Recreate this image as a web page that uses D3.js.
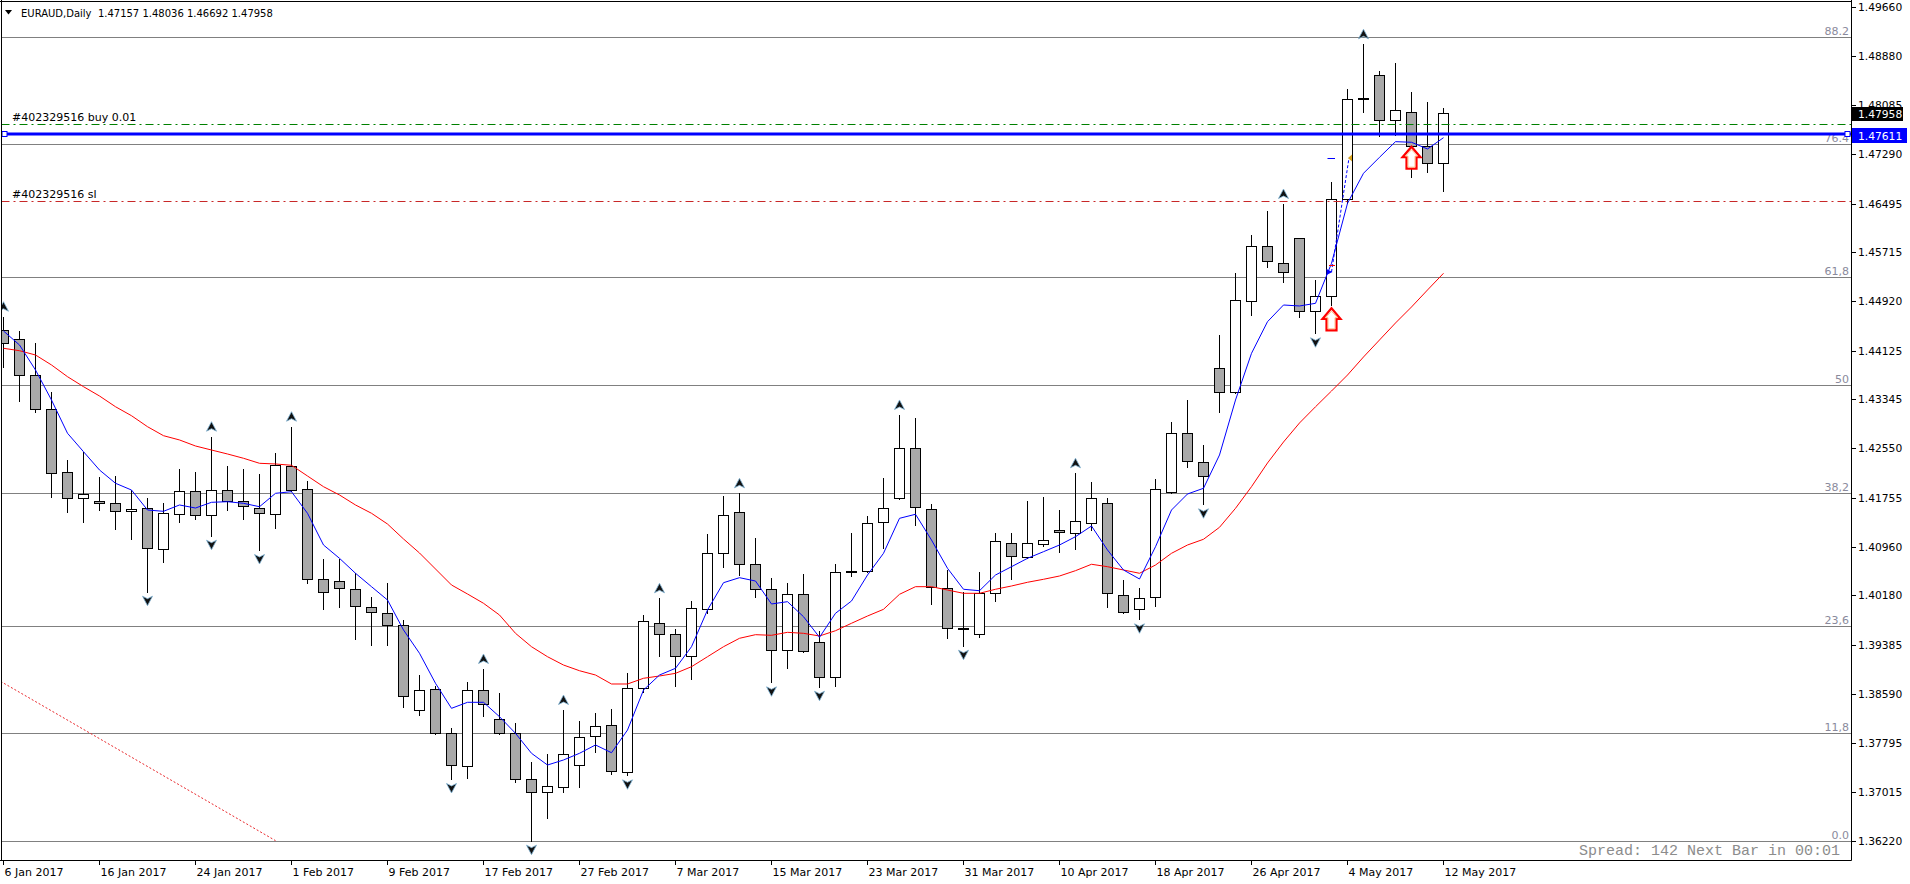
<!DOCTYPE html>
<html><head><meta charset="utf-8">
<script src="https://cdn.jsdelivr.net/npm/d3@7"></script>
<style>
html,body{margin:0;padding:0;background:#fff;overflow:hidden}
svg{display:block}
</style></head><body>
<svg id="chart" width="1910" height="884"></svg>
<script>
// ---------------- DATA ----------------
const symbolTitle = "EURAUD,Daily";
const lastQuote = ["1.47157", "1.48036", "1.46692", "1.47958"];

const dates = [
"2017-01-06","2017-01-09","2017-01-10","2017-01-11","2017-01-12","2017-01-13",
"2017-01-16","2017-01-17","2017-01-18","2017-01-19","2017-01-20",
"2017-01-23","2017-01-24","2017-01-25","2017-01-26","2017-01-27",
"2017-01-30","2017-01-31","2017-02-01","2017-02-02","2017-02-03",
"2017-02-06","2017-02-07","2017-02-08","2017-02-09","2017-02-10",
"2017-02-13","2017-02-14","2017-02-15","2017-02-16","2017-02-17",
"2017-02-20","2017-02-21","2017-02-22","2017-02-23","2017-02-24",
"2017-02-27","2017-02-28","2017-03-01","2017-03-02","2017-03-03",
"2017-03-06","2017-03-07","2017-03-08","2017-03-09","2017-03-10",
"2017-03-13","2017-03-14","2017-03-15","2017-03-16","2017-03-17",
"2017-03-20","2017-03-21","2017-03-22","2017-03-23","2017-03-24",
"2017-03-27","2017-03-28","2017-03-29","2017-03-30","2017-03-31",
"2017-04-03","2017-04-04","2017-04-05","2017-04-06","2017-04-07",
"2017-04-10","2017-04-11","2017-04-12","2017-04-13","2017-04-14",
"2017-04-17","2017-04-18","2017-04-19","2017-04-20","2017-04-21",
"2017-04-24","2017-04-25","2017-04-26","2017-04-27","2017-04-28",
"2017-05-01","2017-05-02","2017-05-03","2017-05-04","2017-05-05",
"2017-05-08","2017-05-09","2017-05-10","2017-05-11","2017-05-12"];

const opens = [
1.44453,1.44308,1.43728,1.43179,1.42164,1.41754,1.41701,1.41664,1.41535,1.41583,
1.40922,1.41487,1.41862,1.41471,1.41878,1.41701,1.41583,1.41487,1.42265,1.41890,
1.40439,1.40407,1.40278,1.39987,1.39891,1.39697,1.38327,1.38666,1.37956,1.37424,
1.38649,1.38182,1.37956,1.37215,1.37005,1.37095,1.37440,1.37908,1.38085,1.37328,
1.38682,1.39730,1.39552,1.39198,1.39955,1.40858,1.41519,1.40681,1.40278,1.39294,
1.40197,1.39423,1.38859,1.40557,1.40568,1.41358,1.41745,1.42551,1.41567,1.40294,
1.39626,1.39552,1.40213,1.41019,1.40794,1.41003,1.41229,1.41180,1.41342,1.41664,
1.40181,1.39955,1.40149,1.41841,1.42793,1.42325,1.43841,1.43453,1.44921,1.45807,
1.45533,1.45936,1.44759,1.45001,1.46565,1.48182,1.48564,1.47838,1.47968,1.47429,
1.47157];
const highs = [
1.44672,1.44442,1.44248,1.43458,1.42362,1.42496,1.42083,1.42104,1.41878,1.41745,
1.41664,1.42217,1.42169,1.42738,1.42265,1.42217,1.42136,1.42480,1.42899,1.42024,
1.40766,1.40766,1.40536,1.40149,1.40379,1.39783,1.38896,1.38719,1.38037,1.38778,
1.38993,1.38606,1.38122,1.37489,1.37623,1.38332,1.38155,1.38283,1.38348,1.38924,
1.39863,1.40133,1.39633,1.40089,1.41164,1.41777,1.41825,1.41100,1.40455,1.40379,
1.40524,1.39601,1.40686,1.41180,1.41454,1.42067,1.43088,1.43034,1.41648,1.40589,
1.40229,1.40552,1.41180,1.41180,1.41701,1.41766,1.41551,1.42148,1.42003,1.41745,
1.40428,1.40294,1.42051,1.42970,1.43325,1.42599,1.44372,1.45372,1.45985,1.46376,
1.46489,1.45940,1.45264,1.46844,1.48338,1.49064,1.48633,1.48762,1.48290,1.48129,
1.48036];
const lows = [
1.43866,1.43318,1.43141,1.41771,1.41529,1.41367,1.41556,1.41255,1.41093,1.40239,
1.40723,1.41367,1.41406,1.41142,1.41556,1.41416,1.40911,1.41271,1.41860,1.40374,
1.39965,1.39997,1.39476,1.39380,1.39380,1.38375,1.38256,1.37950,1.37220,1.37240,
1.38240,1.37940,1.37166,1.36226,1.36596,1.37015,1.37095,1.37650,1.37295,1.37279,
1.38627,1.39207,1.38724,1.38827,1.39891,1.40632,1.40508,1.40149,1.38778,1.39004,
1.39262,1.38707,1.38724,1.40487,1.40560,1.40948,1.41740,1.41319,1.40046,1.39488,
1.39368,1.39514,1.40094,1.40439,1.40777,1.40981,1.40874,1.40922,1.41229,1.39987,
1.39891,1.39794,1.40013,1.41825,1.42254,1.41648,1.43131,1.43440,1.44695,1.45469,
1.45236,1.44663,1.44405,1.44856,1.46510,1.47977,1.47581,1.47601,1.46919,1.47010,
1.46692];
const closes = [
1.44243,1.43728,1.43179,1.42148,1.41754,1.41809,1.41664,1.41535,1.41572,1.40939,
1.41503,1.41862,1.41471,1.41878,1.41701,1.41616,1.41503,1.42281,1.41874,1.40439,
1.40229,1.40294,1.40004,1.39907,1.39697,1.38558,1.38649,1.37956,1.37440,1.38649,
1.38424,1.37956,1.37220,1.37005,1.37102,1.37618,1.37892,1.38069,1.37344,1.38682,
1.39762,1.39552,1.39198,1.39971,1.40858,1.41471,1.40681,1.40278,1.39294,1.40197,
1.39278,1.38859,1.40552,1.40550,1.41342,1.41583,1.42551,1.41600,1.40310,1.39649,
1.39630,1.40213,1.41051,1.40810,1.41019,1.41068,1.41197,1.41374,1.41745,1.40213,
1.39907,1.40133,1.41890,1.42793,1.42341,1.42099,1.43453,1.44937,1.45807,1.45565,
1.45388,1.44759,1.45006,1.46565,1.48177,1.48175,1.47838,1.48000,1.47429,1.47145,
1.47958];

// fast (blue) and slow (red) moving averages
const fastMA = [
1.44442,1.44216,1.43813,1.43329,1.42793,1.42496,1.42201,1.41987,1.41878,1.41556,
1.41535,1.41637,1.41588,1.41680,1.41690,1.41664,1.41609,1.41825,1.41851,1.41503,
1.40992,1.40777,1.40536,1.40320,1.40105,1.39622,1.39246,1.38762,1.38359,1.38456,
1.38456,1.38224,1.37956,1.37634,1.37445,1.37526,1.37634,1.37768,1.37643,1.38009,
1.38654,1.38896,1.39004,1.39352,1.39944,1.40384,1.40465,1.40411,1.40041,1.40078,
1.39836,1.39504,1.39891,1.40089,1.40508,1.40858,1.41422,1.41487,1.41072,1.40616,
1.40278,1.40255,1.40508,1.40642,1.40777,1.40884,1.40992,1.41126,1.41298,1.40911,
1.40589,1.40444,1.40964,1.41556,1.41814,1.41906,1.42443,1.43329,1.44082,1.44592,
1.44861,1.44845,1.44888,1.45533,1.46500,1.46984,1.47242,1.47494,1.47484,1.47376,
1.47558];
const slowMA = [
1.44163,1.44124,1.44055,1.43894,1.43705,1.43544,1.43394,1.43221,1.43076,1.42899,
1.42754,1.42685,1.42588,1.42523,1.42459,1.42390,1.42309,1.42298,1.42277,1.42104,
1.41932,1.41798,1.41637,1.41503,1.41330,1.41089,1.40863,1.40605,1.40347,1.40202,
1.40052,1.39863,1.39568,1.39352,1.39191,1.39057,1.38965,1.38896,1.38751,1.38751,
1.38843,1.38880,1.38923,1.39030,1.39191,1.39352,1.39488,1.39546,1.39536,1.39584,
1.39568,1.39525,1.39610,1.39730,1.39847,1.39955,1.40197,1.40320,1.40320,1.40266,
1.40213,1.40213,1.40278,1.40331,1.40391,1.40439,1.40492,1.40578,1.40681,1.40642,
1.40589,1.40536,1.40669,1.40858,1.40992,1.41084,1.41277,1.41583,1.41932,1.42314,
1.42652,1.42959,1.43220,1.43474,1.43732,1.44023,1.44297,1.44571,1.44829,1.45103,
1.45372];

const priceTicks = ["1.49660","1.48880","1.48085","1.47290","1.46495","1.45715","1.44920","1.44125",
"1.43345","1.42550","1.41755","1.40960","1.40180","1.39385","1.38590","1.37795","1.37015","1.36220"];
const dateTickDates = ["2017-01-06","2017-01-16","2017-01-24","2017-02-01","2017-02-09","2017-02-17",
"2017-02-27","2017-03-07","2017-03-15","2017-03-23","2017-03-31","2017-04-10","2017-04-18",
"2017-04-26","2017-05-04","2017-05-12"];
const dateTickLabels = ["6 Jan 2017","16 Jan 2017","24 Jan 2017","1 Feb 2017","9 Feb 2017","17 Feb 2017",
"27 Feb 2017","7 Mar 2017","15 Mar 2017","23 Mar 2017","31 Mar 2017","10 Apr 2017","18 Apr 2017",
"26 Apr 2017","4 May 2017","12 May 2017"];

const upFractals = ["2017-01-06","2017-01-25","2017-02-01","2017-02-17","2017-02-24","2017-03-06",
"2017-03-13","2017-03-27","2017-04-11","2017-04-28","2017-05-05"];
const downFractals = ["2017-01-19","2017-01-25","2017-01-30","2017-02-15","2017-02-22","2017-03-02",
"2017-03-15","2017-03-20","2017-03-31","2017-04-17","2017-04-21","2017-05-02"];

const fibLow = 1.36226, fibHigh = 1.50916;
const fibLevels = [0, 11.8, 23.6, 38.2, 50, 61.8, 76.4, 88.2];
const fibLabels = ["0.0", "11,8", "23,6", "38,2", "50", "61,8", "76.4", "88.2"];
const fibTrendBars = [-81.3, 17];
const fibTrendPrices = [fibHigh, fibLow];

const orderLabel = "#402329516 buy 0.01", orderPrice = 1.47779;
const slLabel = "#402329516 sl", slPrice = 1.46542;
const hLinePrice = 1.47611, hLineLabel = "1.47611";
const bidPrice = 1.47958, bidLabel = "1.47958";

const signalDates = ["2017-05-03", "2017-05-10"];
const signalPrices = [1.44808, 1.47413];

const tradeOpenDate = "2017-05-03", tradeOpenPrice = 1.45393;
const tradeCloseDate = "2017-05-04", tradeClosePrice = 1.47231;
const tradeSlMark = 1.45506, tradeTpMark = 1.47231;

const spreadText = "Spread: 142 Next Bar in 00:01";

// ---------------- DRAW ----------------
const W = 1910, H = 884;
const L = 1.5, R = 1851.5, T = 1.5, B = 860.5;
const svg = d3.select("#chart");
const FONT = "DejaVu Sans, Verdana, sans-serif";

const x = d3.scaleLinear().domain([0, dates.length - 1]).range([3.5, 1443.5]);
const y = d3.scaleLinear().domain([1.3622, 1.4966]).range([841, 7.3]);
const idx = new Map(dates.map((d, i) => [d, i]));
const cr = v => Math.round(v) + 0.5;

svg.append("rect").attr("width", W).attr("height", H).attr("fill", "#fff");
svg.append("defs").append("clipPath").attr("id", "plot")
  .append("rect").attr("x", L).attr("y", T).attr("width", R - L).attr("height", B - T);
const g = svg.append("g").attr("clip-path", "url(#plot)");

// Fibonacci levels
const fibPrice = lv => fibLow + (fibHigh - fibLow) * lv / 100;
g.selectAll("line.fib").data(fibLevels).join("line").attr("class", "fib")
  .attr("x1", L).attr("x2", R)
  .attr("y1", d => cr(y(fibPrice(d)))).attr("y2", d => cr(y(fibPrice(d))))
  .attr("stroke", "#808080").attr("stroke-width", 1);
g.selectAll("text.fibl").data(fibLevels).join("text").attr("class", "fibl")
  .attr("x", 1849).attr("y", d => cr(y(fibPrice(d))) - 2.5)
  .attr("text-anchor", "end").attr("font-family", FONT).attr("font-size", 11)
  .attr("fill", "#8a8a9c").text((d, i) => fibLabels[i]);
// Fibonacci trend line (red dotted)
g.append("line")
  .attr("x1", x(fibTrendBars[0])).attr("y1", y(fibTrendPrices[0]))
  .attr("x2", x(fibTrendBars[1])).attr("y2", y(fibTrendPrices[1]))
  .attr("stroke", "#e8262a").attr("stroke-width", 1).attr("stroke-dasharray", "2,2");

// Candles
const bars = dates.map((d, i) => ({ i, o: opens[i], h: highs[i], l: lows[i], c: closes[i] }));
const cg = g.append("g").attr("shape-rendering", "crispEdges");
cg.selectAll("line.wick").data(bars).join("line").attr("class", "wick")
  .attr("x1", d => x(d.i)).attr("x2", d => x(d.i))
  .attr("y1", d => Math.round(y(d.h))).attr("y2", d => Math.round(y(d.l)) + 1)
  .attr("stroke", "#000").attr("stroke-width", 1);
bars.forEach(d => {
  const top = Math.round(y(Math.max(d.o, d.c))), bot = Math.round(y(Math.min(d.o, d.c)));
  if (bot - top < 1.5) {
    cg.append("rect").attr("x", x(d.i) - 5.5).attr("y", Math.round(y(d.c)) - 1)
      .attr("width", 11).attr("height", 2).attr("fill", "#000");
  } else {
    cg.append("rect").attr("x", x(d.i) - 5).attr("y", top + 0.5)
      .attr("width", 10).attr("height", bot - top)
      .attr("fill", d.c >= d.o ? "#ffffff" : "#a9a9a9")
      .attr("stroke", "#000").attr("stroke-width", 1);
  }
});

// Order / SL lines
g.append("line").attr("x1", L).attr("x2", R)
  .attr("y1", cr(y(orderPrice))).attr("y2", cr(y(orderPrice)))
  .attr("stroke", "#008000").attr("stroke-width", 1).attr("stroke-dasharray", "8,4,2,4");
g.append("line").attr("x1", L).attr("x2", R)
  .attr("y1", cr(y(slPrice))).attr("y2", cr(y(slPrice)))
  .attr("stroke", "#c82828").attr("stroke-width", 1).attr("stroke-dasharray", "8,4,2,4");
g.append("text").attr("x", 12).attr("y", cr(y(orderPrice)) - 3.5)
  .attr("font-family", FONT).attr("font-size", 11).attr("fill", "#000").text(orderLabel);
g.append("text").attr("x", 12).attr("y", cr(y(slPrice)) - 3.5)
  .attr("font-family", FONT).attr("font-size", 11).attr("fill", "#000").text(slLabel);

// Moving averages
const maLine = d3.line().x((d, i) => x(i)).y(d => y(d));
g.append("path").datum(slowMA).attr("d", maLine).attr("fill", "none")
  .attr("stroke", "#ff0000").attr("stroke-width", 1);
g.append("path").datum(fastMA).attr("d", maLine).attr("fill", "none")
  .attr("stroke", "#0000ff").attr("stroke-width", 1);

// Horizontal blue line with handles
const hy = Math.round(y(hLinePrice));
g.append("line").attr("x1", L).attr("x2", R).attr("y1", hy).attr("y2", hy)
  .attr("stroke", "#0000ff").attr("stroke-width", 3);
[L + 3, R - 4].forEach(hx => {
  g.append("rect").attr("x", hx - 2.5).attr("y", hy - 2.5).attr("width", 5).attr("height", 5)
    .attr("fill", "#fff").attr("stroke", "#0000ff").attr("stroke-width", 1);
});

// Fractal arrows
const upPath = "M0,-5 L5,4.5 L0,2 L-5,4.5 Z";
const dnPath = "M0,5 L5,-4.5 L0,-2 L-5,-4.5 Z";
g.selectAll("path.fu").data(upFractals).join("path").attr("class", "fu")
  .attr("d", upPath)
  .attr("transform", d => `translate(${x(idx.get(d))},${y(highs[idx.get(d)]) - 10})`)
  .attr("fill", "#111").attr("stroke", "#7fb4d6").attr("stroke-width", 0.8);
g.selectAll("path.fd").data(downFractals).join("path").attr("class", "fd")
  .attr("d", dnPath)
  .attr("transform", d => `translate(${x(idx.get(d))},${y(lows[idx.get(d)]) + 9})`)
  .attr("fill", "#111").attr("stroke", "#7fb4d6").attr("stroke-width", 0.8);

// Trade history markers
const toX = x(idx.get(tradeOpenDate)), tcX = x(idx.get(tradeCloseDate));
g.append("line").attr("x1", toX).attr("y1", y(tradeOpenPrice)).attr("x2", tcX + 1.5).attr("y2", y(tradeClosePrice))
  .attr("stroke", "#0000ff").attr("stroke-width", 1).attr("stroke-dasharray", "3,2");
g.append("path").attr("d", "M-4,-3 L2,0 L-4,3 Z")
  .attr("transform", `translate(${toX - 1},${y(tradeOpenPrice)})`).attr("fill", "#0000ff");
g.append("path").attr("d", "M0,0 L4,-3.5 L4,3.5 Z")
  .attr("transform", `translate(${tcX + 0.5},${y(tradeClosePrice)})`).attr("fill", "#daa520");
g.append("line").attr("x1", toX - 4).attr("x2", toX + 3.5)
  .attr("y1", cr(y(tradeTpMark))).attr("y2", cr(y(tradeTpMark))).attr("stroke", "#0000ff").attr("stroke-width", 1);
g.append("line").attr("x1", toX - 2.5).attr("x2", toX + 3.5)
  .attr("y1", cr(y(tradeSlMark))).attr("y2", cr(y(tradeSlMark))).attr("stroke", "#ff0000").attr("stroke-width", 1);

// Signal arrows (red block up arrows)
const sigPath = "M0,0 L9,10.5 L5,10.5 L5,22 L-5,22 L-5,10.5 L-9,10.5 Z";
signalDates.forEach((d, k) => {
  const sx = x(idx.get(d)), sy = y(signalPrices[k]);
  g.append("path").attr("d", sigPath).attr("transform", `translate(${sx},${sy})`)
    .attr("fill", "#fff").attr("stroke", "#ff0000").attr("stroke-width", 2.2).attr("stroke-linejoin", "miter");
  g.append("path").attr("d", "M0,3 L6,9.5 L3.5,9.5 L3.5,20.5 L-3.5,20.5 L-3.5,9.5 L-6,9.5 Z")
    .attr("transform", `translate(${sx},${sy})`)
    .attr("fill", "#fff").attr("stroke", "#ffb070").attr("stroke-width", 0.8);
});

// Header
svg.append("path").attr("d", "M5,10 L12,10 L8.5,14.5 Z").attr("fill", "#000");
svg.append("text").attr("x", 21).attr("y", 16.5).attr("font-family", FONT).attr("font-size", 10)
  .attr("fill", "#000").attr("xml:space", "preserve")
  .text(symbolTitle + "  " + lastQuote.join(" "));

// Spread text
svg.append("text").attr("x", 1840).attr("y", 855).attr("text-anchor", "end")
  .attr("font-family", "Liberation Mono, DejaVu Sans Mono, monospace").attr("font-size", 15)
  .attr("fill", "#8c8c8c").text(spreadText);

// Frame
svg.append("line").attr("x1", L).attr("x2", L).attr("y1", 0).attr("y2", B).attr("stroke", "#000");
svg.append("line").attr("x1", 0).attr("x2", R).attr("y1", T).attr("y2", T).attr("stroke", "#000");
svg.append("line").attr("x1", 0).attr("x2", R).attr("y1", B).attr("y2", B).attr("stroke", "#000");

// Right price axis
const yAxis = d3.axisRight(y).tickValues(priceTicks.map(Number))
  .tickFormat((d, i) => priceTicks[i]).tickSize(4).tickSizeOuter(0).tickPadding(3).offset(0);
const ya = svg.append("g").attr("transform", `translate(${R},0)`).call(yAxis);
ya.select(".domain").remove();
ya.selectAll(".tick line").attr("stroke", "#000").attr("shape-rendering", "crispEdges");
ya.selectAll(".tick").attr("transform", d => `translate(0,${cr(y(d))})`);
ya.selectAll(".tick text").attr("font-family", FONT).attr("font-size", 10.7).attr("fill", "#000")
  .attr("x", 6.5).attr("dy", "0.36em");
svg.append("line").attr("x1", R).attr("x2", R).attr("y1", 0).attr("y2", B).attr("stroke", "#000");

// Price boxes
const bY = Math.round(y(bidPrice));
svg.append("rect").attr("x", R + 0.5).attr("y", bY - 6).attr("width", 51).attr("height", 14).attr("fill", "#000");
svg.append("text").attr("x", R + 6.5).attr("y", bY + 5).attr("font-family", FONT).attr("font-size", 10.7)
  .attr("fill", "#fff").text(bidLabel);
svg.append("rect").attr("x", R + 0.5).attr("y", hy - 6).attr("width", 55).attr("height", 15).attr("fill", "#0000ff");
svg.append("text").attr("x", R + 6.5).attr("y", hy + 5.5).attr("font-family", FONT).attr("font-size", 10.7)
  .attr("fill", "#fff").text(hLineLabel);

// Bottom date axis
const xAxis = d3.axisBottom(x).tickValues(dateTickDates.map(d => idx.get(d)))
  .tickFormat((d, i) => dateTickLabels[i]).tickSize(4).tickSizeOuter(0).offset(0);
const xa = svg.append("g").attr("transform", `translate(0,${B})`).call(xAxis);
xa.select(".domain").remove();
xa.selectAll(".tick line").attr("stroke", "#000").attr("shape-rendering", "crispEdges");
xa.selectAll(".tick text").attr("font-family", FONT).attr("font-size", 11).attr("fill", "#000")
  .attr("text-anchor", "start").attr("x", 1).attr("y", 15.5).attr("dy", 0);
</script>
</body></html>
